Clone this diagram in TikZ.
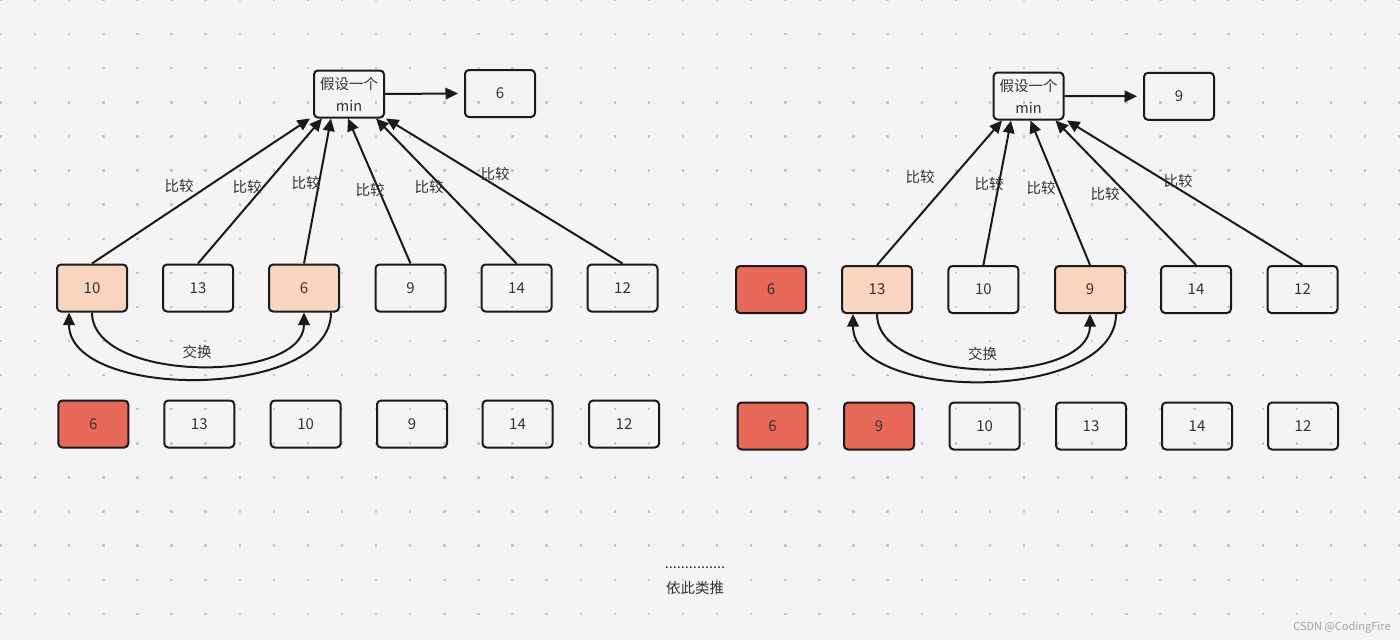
\documentclass[tikz,border=0pt]{standalone}
\usepackage{fontspec}
\setmainfont{Noto Sans CJK SC}
\usetikzlibrary{arrows.meta,calc}
\definecolor{bg}{HTML}{F4F4F6}
\definecolor{dotc}{HTML}{C8C8CC}
\definecolor{edge}{HTML}{1A1A1A}
\definecolor{peach}{HTML}{F9D4BF}
\definecolor{redf}{HTML}{E8685A}
\definecolor{txt}{HTML}{333333}
\definecolor{wm}{HTML}{A3A3A3}
\begin{document}
\begin{tikzpicture}[x=1pt,y=-1pt,
  box/.style={draw=edge,line width=2pt,rounded corners=4pt,minimum width=70pt,minimum height=47pt,inner sep=0pt,text=txt,font=\fontsize{15}{17}\selectfont},
  hl/.style={box,fill=peach},
  done/.style={box,fill=redf},
  minbox/.style={box,align=center,font=\fontsize{14.5}{22}\selectfont},
  arr/.style={draw=edge,line width=2pt,-{Triangle[length=12.5pt,width=11.5pt]}},
  lbl/.style={text=txt,inner sep=0pt,font=\fontsize{14.5}{17}\selectfont},
]
\fill[bg] (0,0) rectangle (1400,640);
\useasboundingbox (0,0) rectangle (1400,640);
% dotted grid
\foreach \i in {0,...,41}{
  \foreach \j in {0,...,18}{
    \fill[dotc] ({1+34.1*\i-1.2},{34.1*\j-1.2}) rectangle ++(2.4,2.4);
  }
}
% ---------- left group ----------
\node[minbox] (Lmin) at (349,94) {假设一个\\min};
\node[box] (Lres) at (500,93.5) {6};
\node[hl]  (L1) at (92,288) {10};
\node[box] (L2) at (198,288) {13};
\node[hl]  (L3) at (304,288) {6};
\node[box] (L4) at (410.5,288) {9};
\node[box] (L5) at (516.5,288) {14};
\node[box] (L6) at (622.5,288) {12};
\node[done] (LB1) at (93.3,424) {6};
\node[box]  (LB2) at (199.3,424) {13};
\node[box]  (LB3) at (305.7,424) {10};
\node[box]  (LB4) at (412,424) {9};
\node[box]  (LB5) at (517.5,424) {14};
\node[box]  (LB6) at (624,424) {12};
\draw[arr] (Lmin.east) -- ([xshift=-6pt]Lres.west);
\draw[arr] (L1.north) -- ([xshift=-39pt]Lmin.south);
\draw[arr] (L2.north) -- ([xshift=-27pt]Lmin.south);
\draw[arr] (L3.north) -- ([xshift=-18pt]Lmin.south);
\draw[arr] (L4.north) -- ([xshift=-1pt]Lmin.south);
\draw[arr] (L5.north) -- ([xshift=27pt]Lmin.south);
\draw[arr] (L6.north) -- ([xshift=37pt]Lmin.south);
\node[lbl] (Lc1) at (179,186) {比较};
\node[lbl] (Lc2) at (247,187) {比较};
\node[lbl] (Lc3) at (306,183) {比较};
\node[lbl] (Lc4) at (370,190) {比较};
\node[lbl] (Lc5) at (429,187) {比较};
\node[lbl] (Lc6) at (495,174) {比较};
\draw[arr] (L1.south) .. controls +(0,71) and +(0,71) .. (L3.south);
\draw[arr] ([xshift=27pt]L3.south) .. controls +(0,88) and +(0,88) .. ([xshift=-23pt]L1.south);
\node[lbl] (Lsw) at (197,352) {交换};
% ---------- right group ----------
\node[minbox] (Rmin) at (1028.5,96) {假设一个\\min};
\node[box] (Rres) at (1179,96.3) {9};
\node[done] (R1) at (771,289.5) {6};
\node[hl]   (R2) at (877,289.5) {13};
\node[box]  (R3) at (983.4,289.5) {10};
\node[hl]   (R4) at (1090,289.5) {9};
\node[box]  (R5) at (1196,289.5) {14};
\node[box]  (R6) at (1302.5,289.5) {12};
\node[done] (RB1) at (772.5,426) {6};
\node[done] (RB2) at (879,426) {9};
\node[box]  (RB3) at (984.7,426) {10};
\node[box]  (RB4) at (1091,426) {13};
\node[box]  (RB5) at (1197,426) {14};
\node[box]  (RB6) at (1303,426) {12};
\draw[arr] (Rmin.east) -- ([xshift=-6pt]Rres.west);
\draw[arr] (R2.north) -- ([xshift=-26.5pt]Rmin.south);
\draw[arr] (R3.north) -- ([xshift=-17.5pt]Rmin.south);
\draw[arr] (R4.north) -- ([xshift=2pt]Rmin.south);
\draw[arr] (R5.north) -- ([xshift=27pt]Rmin.south);
\draw[arr] (R6.north) -- ([xshift=38.5pt]Rmin.south);
\node[lbl] (Rc1) at (920,177) {比较};
\node[lbl] (Rc2) at (989,184) {比较};
\node[lbl] (Rc3) at (1041,188) {比较};
\node[lbl] (Rc4) at (1105,194) {比较};
\node[lbl] (Rc5) at (1178,181) {比较};
\draw[arr] (R2.south) .. controls +(0,72) and +(0,72) .. (R4.south);
\draw[arr] ([xshift=26pt]R4.south) .. controls +(0,89) and +(0,89) .. ([xshift=-24pt]R2.south);
\node[lbl] (Rsw) at (982.5,354) {交换};
% ---------- footer ----------
\node[lbl] (dots) at (695,568) {...............};
\node[lbl] (etc) at (695,588) {依此类推};
\node[text=wm,inner sep=0pt,font=\fontsize{11}{13}\selectfont] (wmk) at (1342,627) {CSDN @CodingFire};
\end{tikzpicture}
\end{document}
